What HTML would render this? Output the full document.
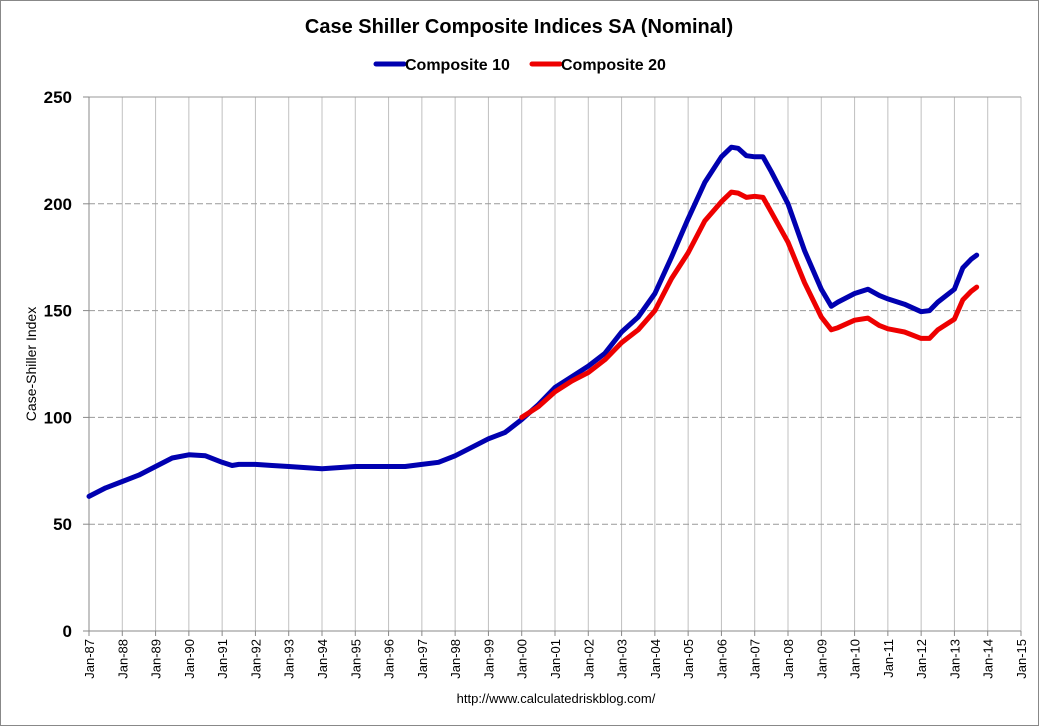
<!DOCTYPE html>
<html><head><meta charset="utf-8"><style>
body{margin:0;background:#fff}
svg{display:block;font-family:"Liberation Sans",sans-serif}
</style></head><body>
<svg id="chart" width="1039" height="726" viewBox="0 0 1039 726">
<rect x="0.5" y="0.5" width="1038" height="725" fill="#fff" stroke="#888"/>
<text x="519" y="33" text-anchor="middle" font-size="20" font-weight="bold">Case Shiller Composite Indices SA (Nominal)</text>
<g>
<g><line x1="376" y1="64" x2="404" y2="64" stroke="#0000b0" stroke-width="5" stroke-linecap="round"/><text x="405" y="70" font-size="16" font-weight="bold">Composite 10</text></g>
<g><line x1="532" y1="64" x2="560" y2="64" stroke="#ee0000" stroke-width="5" stroke-linecap="round"/><text x="561" y="70" font-size="16" font-weight="bold">Composite 20</text></g>
</g>
<text transform="translate(36,364) rotate(-90)" text-anchor="middle" font-size="14">Case-Shiller Index</text>
<g id="grid"></g>
<g id="axes"></g>
<g id="series"></g>
<text x="556" y="703" text-anchor="middle" font-size="13">http://www.calculatedriskblog.com/</text>
</svg>
<script>
const yTicks=[0,50,100,150,200,250];
const xYears=[1987,1988,1989,1990,1991,1992,1993,1994,1995,1996,1997,1998,1999,2000,2001,2002,2003,2004,2005,2006,2007,2008,2009,2010,2011,2012,2013,2014,2015];
const c10Dates=[1987.0,1987.5,1988.0,1988.5,1989.0,1989.5,1990.0,1990.5,1991.0,1991.3,1991.5,1992.0,1992.5,1993.0,1993.5,1994.0,1994.5,1995.0,1995.5,1996.0,1996.5,1997.0,1997.5,1998.0,1998.5,1999.0,1999.5,2000.0,2000.5,2001.0,2001.5,2002.0,2002.5,2003.0,2003.5,2004.0,2004.5,2005.0,2005.5,2006.0,2006.3,2006.5,2006.75,2007.0,2007.25,2007.5,2008.0,2008.5,2009.0,2009.3,2009.5,2010.0,2010.4,2010.75,2011.0,2011.5,2012.0,2012.25,2012.5,2013.0,2013.25,2013.5,2013.67];
const c10Values=[63,67,70,73,77,81,82.5,82,79,77.5,78,78,77.5,77,76.5,76,76.5,77,77,77,77,78,79,82,86,90,93,99,106,114,119,124,130,140,147,158,175,193,210,222,226.5,226,222.5,222,222,215,200,178,160,152,154,158,160,157,155.5,153,149.5,150,154,160,170,174,176];
const c20Dates=[2000.0,2000.5,2001.0,2001.5,2002.0,2002.5,2003.0,2003.5,2004.0,2004.5,2005.0,2005.5,2006.0,2006.3,2006.5,2006.75,2007.0,2007.25,2007.5,2008.0,2008.5,2009.0,2009.3,2009.5,2010.0,2010.4,2010.75,2011.0,2011.5,2012.0,2012.25,2012.5,2013.0,2013.25,2013.5,2013.67];
const c20Values=[100,105,112,117,121,127,135,141,150,165,177,192,201,205.5,205,203,203.5,203,196,182,163,147,141,142,145.5,146.5,143,141.5,140,137,137,141,146,155,159,161];
const X0=89,X1=1021,Y0=631,Y1=97;
const xs=d=>X0+(d-1987)*(X1-X0)/28;
const ys=v=>Y0-v*(Y0-Y1)/250;
const NS="http://www.w3.org/2000/svg";
function mk(tag,attrs,parent){const e=document.createElementNS(NS,tag);for(const k in attrs)e.setAttribute(k,attrs[k]);parent.appendChild(e);return e;}
const grid=document.getElementById('grid'),axes=document.getElementById('axes'),series=document.getElementById('series');
xYears.forEach(y=>{if(y===1987)return;const l=mk('line',{x1:xs(y),x2:xs(y),y1:Y1,y2:Y0,stroke:'#c0c0c0','stroke-width':1},grid);

});
yTicks.forEach(v=>{if(v===0)return;const l=mk('line',{x1:X0,x2:X1,y1:ys(v),y2:ys(v),stroke:'#999','stroke-width':1,'stroke-dasharray':v===250?'':'6,3'},grid);

});
mk('line',{x1:X0,x2:X0,y1:Y1,y2:Y0,stroke:'#888'},axes);
mk('line',{x1:X0,x2:X1,y1:Y0,y2:Y0,stroke:'#888'},axes);
yTicks.forEach(v=>{mk('line',{x1:X0-6,x2:X0,y1:ys(v),y2:ys(v),stroke:'#888'},axes);
const t=mk('text',{x:72,y:ys(v)+6,'text-anchor':'end','font-size':17,'font-weight':'bold'},axes);t.textContent=v;

});
xYears.forEach(y=>{const x=xs(y);mk('line',{x1:x,x2:x,y1:Y0,y2:Y0+5,stroke:'#888'},axes);
const t=mk('text',{transform:`translate(${x+5},${Y0+8}) rotate(-90)`,'text-anchor':'end','font-size':13},axes);
t.textContent='Jan-'+String(y).slice(2);

});
function line(d,v,col,name){const p=mk('polyline',{points:d.map((t,i)=>xs(t).toFixed(1)+','+ys(v[i]).toFixed(1)).join(' '),fill:'none',stroke:col,'stroke-width':5,'stroke-linejoin':'round','stroke-linecap':'round'},series);

}
line(c10Dates,c10Values,'#0000b0','composite-10-line');
line(c20Dates,c20Values,'#ee0000','composite-20-line');
</script>
</body></html>
